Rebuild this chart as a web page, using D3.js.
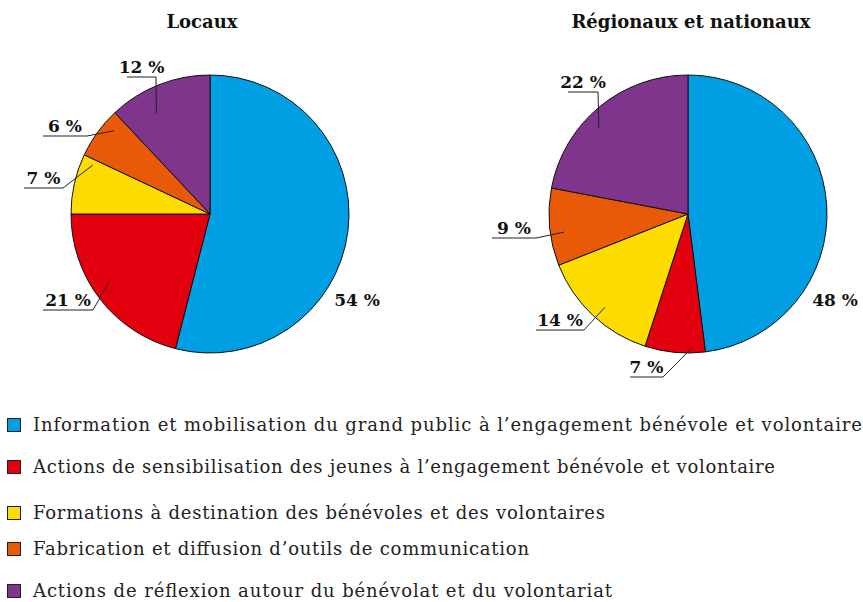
<!DOCTYPE html>
<html><head><meta charset="utf-8">
<script src="https://cdn.jsdelivr.net/npm/d3@7"></script>
<style>html,body{margin:0;padding:0;background:#fff;}</style>
</head><body>
<svg id="chart" width="863" height="602"></svg>
<script>
// ---- data ----
const categories = [
  "Information et mobilisation du grand public à l’engagement bénévole et volontaire",
  "Actions de sensibilisation des jeunes à l’engagement bénévole et volontaire",
  "Formations à destination des bénévoles et des volontaires",
  "Fabrication et diffusion d’outils de communication",
  "Actions de réflexion autour du bénévolat et du volontariat"
];
const pieTitles = ["Locaux", "Régionaux et nationaux"];
const localValues = [54, 21, 7, 6, 12];
const regionalValues = [48, 7, 14, 9, 22];
const colors = ["#009fe3", "#e2000f", "#ffdc00", "#e85a07", "#7f358b"];

// ---- layout (styling only) ----
const R = 139;
const pies = [
  {values: localValues, title: pieTitles[0], cx: 210, cy: 214, titleX: 202,
   leaders: {
     1: {t: 0.55, r: 122, ex: -117, ey: 96, len: 50},
     2: {t: 0.90, r: 127, ex: -147, ey: -26, len: 39},
     3: {t: 0.73, r: 127, ex: -123, ey: -78, len: 44},
     4: {t: 0.35, r: 114, ex: -54, ey: -137, len: 29}
   }},
  {values: regionalValues, title: pieTitles[1], cx: 688, cy: 214, titleX: 691,
   leaders: {
     1: {t: 0.22, r: 134, ex: -25, ey: 163, len: 33},
     2: {t: 0.47, r: 125, ex: -104, ey: 116, len: 48},
     3: {t: 0.41, r: 125, ex: -152, ey: 24, len: 44},
     4: {t: 0.42, r: 124, ex: -90, ey: -122, len: 30}
   }}
];
const legendY = [425, 467, 513, 549, 591];
const legendTextWidths = [829, 742, 572, 496, 579];

const svg = d3.select("#chart");
const pie = d3.pie().sort(null).value(d => d);
const arc = d3.arc().innerRadius(0).outerRadius(R);
const boldFont = "'DejaVu Serif', serif";

pies.forEach(p => {
  const g = svg.append("g").attr("transform", `translate(${p.cx},${p.cy})`);
  const arcs = pie(p.values);
  g.selectAll("path").data(arcs).enter().append("path")
    .attr("d", arc)
    .attr("fill", (d, i) => colors[i])
    .attr("stroke", "#111")
    .attr("stroke-width", 1)
    .attr("stroke-linejoin", "round");

  svg.append("text").attr("x", p.titleX).attr("y", 28)
    .attr("text-anchor", "middle")
    .attr("font-family", boldFont).attr("font-weight", "bold")
    .attr("font-size", 18).attr("fill", "#111")
    .text(p.title);

  arcs.forEach((a, i) => {
    const label = a.value + " %";
    const L = p.leaders[i];
    if (!L) {
      g.append("text").attr("x", 147).attr("y", 92)
        .attr("text-anchor", "middle")
        .attr("font-family", boldFont).attr("font-weight", "bold")
        .attr("font-size", 17).attr("fill", "#111").text(label);
      return;
    }
    const ang = a.startAngle + L.t * (a.endAngle - a.startAngle);
    const px = L.r * Math.sin(ang), py = -L.r * Math.cos(ang);
    g.append("path")
      .attr("d", d3.line()([[px, py], [L.ex, L.ey], [L.ex - L.len, L.ey]]))
      .attr("fill", "none").attr("stroke", "#222").attr("stroke-width", 1);
    g.append("text").attr("x", L.ex - L.len / 2).attr("y", L.ey - 4)
      .attr("text-anchor", "middle")
      .attr("font-family", boldFont).attr("font-weight", "bold")
      .attr("font-size", 17).attr("fill", "#111").text(label);
  });
});

// ---- legend ----
const lg = svg.append("g");
categories.forEach((c, i) => {
  lg.append("rect").attr("x", 7.5).attr("y", legendY[i] - 6.5)
    .attr("width", 13).attr("height", 13)
    .attr("fill", colors[i]).attr("stroke", "#222").attr("stroke-width", 1);
  lg.append("text").attr("x", 33).attr("y", legendY[i] + 6)
    .attr("font-family", "'DejaVu Serif', serif").attr("font-size", 18)
    .attr("textLength", legendTextWidths[i]).attr("lengthAdjust", "spacing")
    .attr("fill", "#222").text(c);
});
</script>
</body></html>
